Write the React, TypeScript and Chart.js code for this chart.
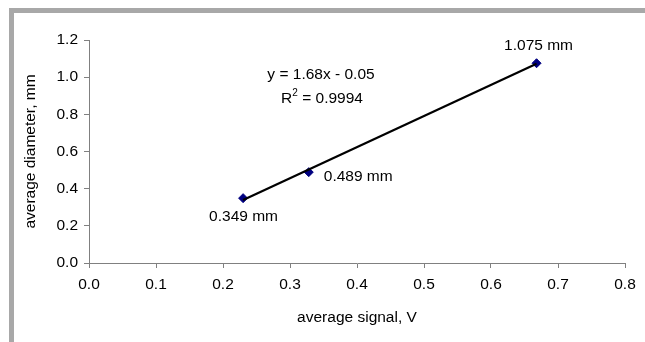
import React, { useEffect, useRef } from "react";
import { Chart, registerables } from "chart.js";

Chart.register(...registerables);

// ---- data ----
const signalV = [0.23, 0.328, 0.668];
const diameterMm = [0.349, 0.489, 1.075];
const pointLabels = ["0.349 mm", "0.489 mm", "1.075 mm"];
const xTicks = [0, 0.1, 0.2, 0.3, 0.4, 0.5, 0.6, 0.7, 0.8];
const yTicks = [0, 0.2, 0.4, 0.6, 0.8, 1.0, 1.2];
const equationText = "y = 1.68x - 0.05";
const r2Value = "0.9994";
const xTitle = "average signal, V";
const yTitle = "average diameter, mm";

// label placement (style, not data)
const labelPlacement = [
  { dx: -34, dy: 19, align: "left" },
  { dx: 15, dy: 5, align: "left" },
  { dx: 2, dy: -18, align: "center" },
];

const FONT = "'Liberation Sans', Arial, sans-serif";
const FS = 15.5;

function leastSquares(xs: number[], ys: number[]) {
  const n = xs.length;
  const mx = xs.reduce((a, b) => a + b, 0) / n;
  const my = ys.reduce((a, b) => a + b, 0) / n;
  let sxy = 0, sxx = 0;
  for (let i = 0; i < n; i++) {
    sxy += (xs[i] - mx) * (ys[i] - my);
    sxx += (xs[i] - mx) ** 2;
  }
  const slope = sxy / sxx;
  return { slope, intercept: my - slope * mx };
}

export default function App() {
  const ref = useRef<HTMLCanvasElement | null>(null);

  useEffect(() => {
    if (!ref.current) return;
    const fit = leastSquares(signalV, diameterMm);
    const xMin = Math.min(...signalV);
    const xMax = Math.max(...signalV);
    const trend = [
      { x: xMin, y: fit.slope * xMin + fit.intercept },
      { x: xMax, y: fit.slope * xMax + fit.intercept },
    ];

    const framePlugin = {
      id: "frame",
      beforeDraw(chart: any) {
        const ctx = chart.ctx;
        ctx.save();
        ctx.fillStyle = "#ffffff";
        ctx.fillRect(0, 0, chart.width, chart.height);
        ctx.fillStyle = "#a8a8a8";
        ctx.fillRect(9, 8, chart.width - 9, 5);
        ctx.fillRect(9, 8, 5, chart.height - 8);
        ctx.restore();
      },
    };

    const textPlugin = {
      id: "texts",
      afterDatasetsDraw(chart: any) {
        const ctx = chart.ctx;
        const xs = chart.scales.x;
        const ys = chart.scales.y;
        ctx.save();
        ctx.fillStyle = "#000";
        ctx.font = `${FS}px ${FONT}`;
        ctx.textBaseline = "middle";
        signalV.forEach((v, i) => {
          const px = xs.getPixelForValue(v);
          const py = ys.getPixelForValue(diameterMm[i]);
          const p = labelPlacement[i];
          ctx.textAlign = p.align;
          ctx.fillText(pointLabels[i], px + p.dx, py + p.dy);
        });
        // equation
        ctx.textAlign = "center";
        ctx.fillText(equationText, 321, 75);
        // R^2 line
        const rW = ctx.measureText("R").width;
        ctx.font = `10px ${FONT}`;
        const sW = ctx.measureText("2").width;
        ctx.font = `${FS}px ${FONT}`;
        const rest = " = " + r2Value;
        const restW = ctx.measureText(rest).width;
        const total = rW + sW + restW;
        const x0 = 322 - total / 2;
        ctx.textAlign = "left";
        ctx.fillText("R", x0, 99);
        ctx.font = `10px ${FONT}`;
        ctx.fillText("2", x0 + rW, 93);
        ctx.font = `${FS}px ${FONT}`;
        ctx.fillText(rest, x0 + rW + sW, 99);
        ctx.restore();
      },
    };

    const chart = new Chart(ref.current, {
      type: "scatter",
      data: {
        datasets: [
          {
            label: "data",
            data: signalV.map((x, i) => ({ x, y: diameterMm[i] })),
            pointStyle: "rectRot",
            pointRadius: 4.5,
            backgroundColor: "#000080",
            borderColor: "#000080",
            borderWidth: 1,
            showLine: false,
            order: 2,
          },
          {
            label: "trend",
            data: trend,
            showLine: true,
            borderColor: "#000000",
            borderWidth: 2.2,
            pointRadius: 0,
            order: 1,
          },
        ],
      },
      options: {
        responsive: false,
        animation: false,
        events: [],
        layout: { padding: { left: 0, right: 20, top: 40, bottom: 0 } },
        plugins: {
          legend: { display: false },
          tooltip: { enabled: false },
        },
        scales: {
          x: {
            type: "linear",
            min: 0,
            max: 0.8,
            afterBuildTicks: (s: any) => {
              s.ticks = xTicks.map((v) => ({ value: v }));
            },
            afterFit: (s: any) => {
              s.height = 79;
            },
            grid: {
              display: true,
              drawOnChartArea: false,
              drawTicks: true,
              tickLength: 5,
              color: "#808080",
            },
            border: { display: true, color: "#808080", width: 1 },
            ticks: {
              color: "#000",
              font: { family: FONT, size: FS },
              padding: 7,
              maxRotation: 0,
              callback: (v: any) => Number(v).toFixed(1),
            },
            title: {
              display: true,
              text: xTitle,
              color: "#000",
              font: { family: FONT, size: FS },
              padding: { top: 0, bottom: 15 },
            },
          },
          y: {
            type: "linear",
            min: 0,
            max: 1.2,
            afterBuildTicks: (s: any) => {
              s.ticks = yTicks.map((v) => ({ value: v }));
            },
            afterFit: (s: any) => {
              s.width = 89;
            },
            grid: {
              display: true,
              drawOnChartArea: false,
              drawTicks: true,
              tickLength: 5,
              color: "#808080",
            },
            border: { display: true, color: "#808080", width: 1 },
            ticks: {
              color: "#000",
              font: { family: FONT, size: FS },
              padding: 6,
              callback: (v: any) => Number(v).toFixed(1),
            },
            title: {
              display: true,
              text: yTitle,
              color: "#000",
              font: { family: FONT, size: FS },
              padding: { top: 21, bottom: 0 },
            },
          },
        },
      },
      plugins: [framePlugin, textPlugin],
    });
    return () => chart.destroy();
  }, []);

  return (
    <div style={{ position: "absolute", left: 0, top: 0, width: 645, height: 342 }}>
      <canvas ref={ref} width={645} height={342} style={{ width: 645, height: 342 }} />
    </div>
  );
}
